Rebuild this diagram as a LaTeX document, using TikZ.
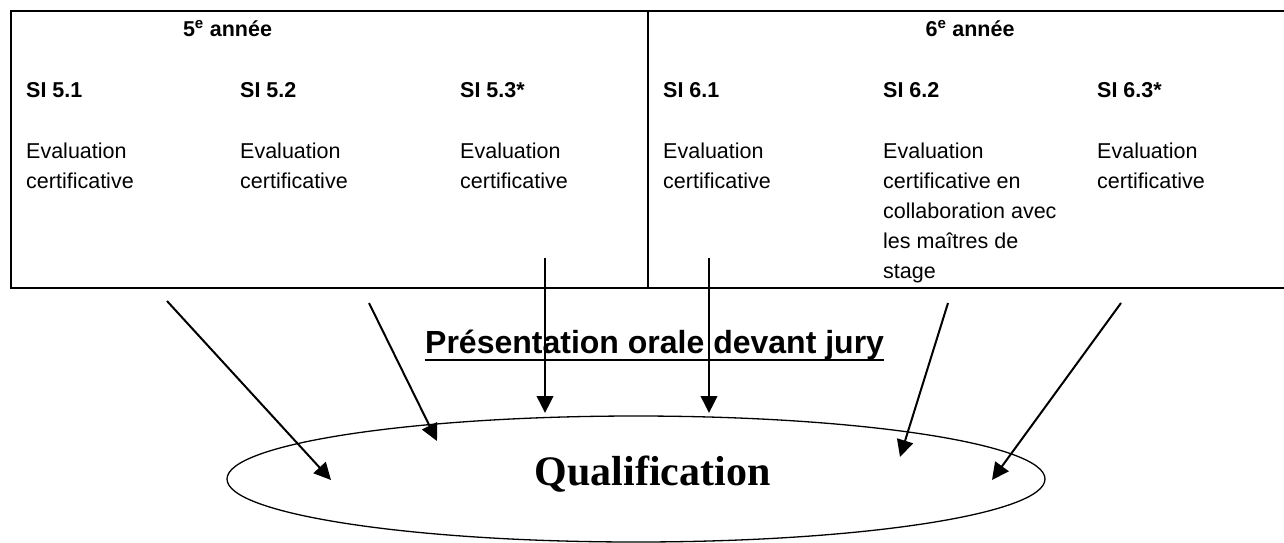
\documentclass[tikz,border=0pt]{standalone}
\usepackage{fontspec}
\setmainfont{Liberation Sans}
\newfontfamily\serifbf{Liberation Serif}
\usetikzlibrary{arrows.meta,shapes.geometric}
\begin{document}
\begin{tikzpicture}[x=1pt,y=-1pt,
  cell/.style={anchor=base west, inner sep=0pt, font=\fontsize{21.5}{30}\selectfont},
  head/.style={anchor=base, inner sep=0pt, font=\fontsize{21.5}{30}\selectfont\bfseries},
  sihead/.style={anchor=base west, inner sep=0pt, font=\fontsize{21.5}{30}\selectfont\bfseries},
  grid/.style={line width=1.6pt},
  arr/.style={line width=2pt, -{Triangle[length=17pt,width=16.5pt]}}]
\useasboundingbox (0,0) rectangle (1284,542);
% table
\draw[grid] (1300,11) -- (11,11) -- (11,288) -- (1300,288);
\draw[grid] (648,11) -- (648,288);
% headings
\node[head] (h5) at (227.5,36) {5\textsuperscript{e} année};
\node[head] (h6) at (970,36) {6\textsuperscript{e} année};
\node[sihead] (si51) at (26,97) {SI 5.1};
\node[sihead] (si52) at (240,97) {SI 5.2};
\node[sihead] (si53) at (460,97) {SI 5.3*};
\node[sihead] (si61) at (663,97) {SI 6.1};
\node[sihead] (si62) at (883,97) {SI 6.2};
\node[sihead] (si63) at (1097,97) {SI 6.3*};
% cells
\node[cell] (e51) at (26,158) {\begin{tabular}[t]{@{}l@{}}Evaluation\\certificative\end{tabular}};
\node[cell] (e52) at (240,158) {\begin{tabular}[t]{@{}l@{}}Evaluation\\certificative\end{tabular}};
\node[cell] (e53) at (460,158) {\begin{tabular}[t]{@{}l@{}}Evaluation\\certificative\end{tabular}};
\node[cell] (e61) at (663,158) {\begin{tabular}[t]{@{}l@{}}Evaluation\\certificative\end{tabular}};
\node[cell] (e62) at (883,158) {\begin{tabular}[t]{@{}l@{}}Evaluation\\certificative en\\collaboration avec\\les maîtres de\\stage\end{tabular}};
\node[cell] (e63) at (1097,158) {\begin{tabular}[t]{@{}l@{}}Evaluation\\certificative\end{tabular}};
% presentation
\node[anchor=base west, inner sep=0pt, font=\fontsize{32}{36}\selectfont\bfseries] (pres) at (425,353) {Présentation orale devant jury};
\draw[line width=2.5pt] ([yshift=-7pt]pres.base west) -- ([yshift=-7pt]pres.base east);
% qualification
\node[draw, ellipse, line width=1.3pt, minimum width=818pt, minimum height=126pt, inner sep=0pt] (qual) at (636,479) {};
\node[anchor=base, inner sep=0pt, font=\serifbf\bfseries\fontsize{42}{48}\selectfont] (qtext) at (652.5,485) {Qualification};
% arrows
\coordinate (s1) at (167,301); \coordinate (t1) at (331,480);
\coordinate (s2) at (369,303); \coordinate (t2) at (437,441);
\coordinate (s3) at (545,258); \coordinate (t3) at (545,413);
\coordinate (s4) at (709,258); \coordinate (t4) at (709,413);
\coordinate (s5) at (948,303); \coordinate (t5) at (900,457);
\coordinate (s6) at (1121,303); \coordinate (t6) at (992,480);
\foreach \i in {1,...,6} {\draw[arr] (s\i) -- (t\i);}
\end{tikzpicture}
\end{document}
